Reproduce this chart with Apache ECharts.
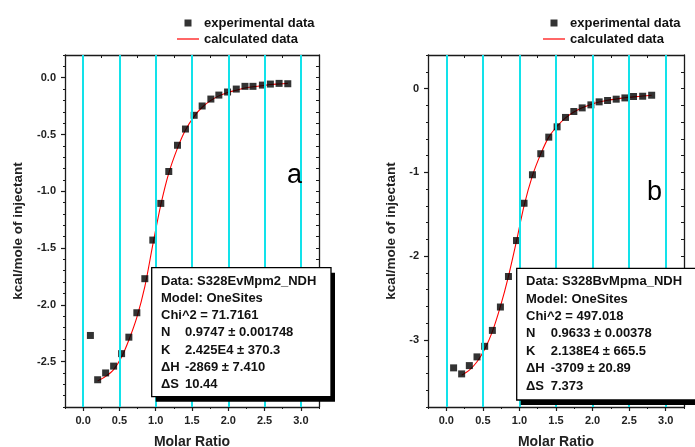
<!DOCTYPE html>
<html>
<head>
<meta charset="utf-8">
<script src="https://cdn.jsdelivr.net/npm/echarts@6/dist/echarts.min.js"></script>
<style>
html,body{margin:0;padding:0;background:#fff;}
#chart{width:695px;height:447px;}
</style>
</head>
<body>
<div id="chart"></div>
<script>
// ---- data ----
const xMajorTicks = [0, 0.5, 1.0, 1.5, 2.0, 2.5, 3.0];
const leftYMajorTicks = [-2.5, -2.0, -1.5, -1.0, -0.5, 0.0];
const rightYMajorTicks = [-3, -2, -1, 0];

const leftX = [0.10, 0.20, 0.31, 0.42, 0.53, 0.63, 0.74, 0.85, 0.96, 1.07, 1.18, 1.30, 1.41, 1.53, 1.64, 1.76, 1.87, 1.99, 2.11, 2.23, 2.34, 2.47, 2.58, 2.70, 2.82];
const leftExp = [-2.27, -2.66, -2.60, -2.54, -2.43, -2.285, -2.07, -1.77, -1.43, -1.107, -0.826, -0.595, -0.452, -0.331, -0.249, -0.188, -0.153, -0.126, -0.100, -0.076, -0.076, -0.065, -0.056, -0.050, -0.053];
const leftCalcX = [0.20, 0.31, 0.42, 0.53, 0.63, 0.74, 0.85, 0.96, 1.07, 1.18, 1.30, 1.41, 1.53, 1.64, 1.76, 1.87, 1.99, 2.11, 2.23, 2.34, 2.47, 2.58, 2.70, 2.82];
const leftCalc = [-2.67, -2.63, -2.57, -2.46, -2.31, -2.11, -1.84, -1.47, -1.12, -0.84, -0.62, -0.46, -0.34, -0.26, -0.20, -0.16, -0.13, -0.11, -0.09, -0.08, -0.07, -0.06, -0.055, -0.05];

const rightX = [0.10, 0.21, 0.315, 0.42, 0.525, 0.63, 0.74, 0.85, 0.96, 1.063, 1.178, 1.292, 1.401, 1.515, 1.63, 1.744, 1.858, 1.977, 2.09, 2.205, 2.323, 2.442, 2.56, 2.685, 2.808];
const rightExp = [-3.333, -3.405, -3.306, -3.202, -3.076, -2.886, -2.607, -2.243, -1.814, -1.369, -1.029, -0.778, -0.58, -0.457, -0.345, -0.274, -0.231, -0.195, -0.159, -0.143, -0.127, -0.112, -0.095, -0.092, -0.080];
const rightCalcX = [0.21, 0.315, 0.42, 0.525, 0.63, 0.74, 0.85, 0.96, 1.063, 1.178, 1.292, 1.401, 1.515, 1.63, 1.744, 1.858, 1.977, 2.09, 2.205, 2.323, 2.442, 2.56, 2.685, 2.808];
const rightCalc = [-3.42, -3.36, -3.26, -3.11, -2.90, -2.60, -2.24, -1.82, -1.40, -1.04, -0.78, -0.58, -0.45, -0.35, -0.28, -0.23, -0.19, -0.16, -0.14, -0.125, -0.11, -0.10, -0.09, -0.08];

const leftBoxLabels = ["Data: S328EvMpm2_NDH", "Model: OneSites", "Chi^2 = 71.7161", "N", "K", "\u0394H", "\u0394S"];
const leftBoxValues = ["", "", "", "0.9747 \u00b1 0.001748", "2.425E4 \u00b1 370.3", "-2869 \u00b1 7.410", "10.44"];
const rightBoxLabels = ["Data: S328BvMpma_NDH", "Model: OneSites", "Chi^2 = 497.018", "N", "K", "\u0394H", "\u0394S"];
const rightBoxValues = ["", "", "", "0.9633 \u00b1 0.00378", "2.138E4 \u00b1 665.5", "-3709 \u00b1 20.89", "7.373"];
const panelLetters = ["a", "b"];

// ---- chart ----
const FONT = '"Liberation Sans", Arial, sans-serif';
const AX = '#1a1a1a';
const CYAN = '#12e2ea';
const XMIN = -0.25, XMAX = 3.25;

const grids = [
  {left: 65, top: 55, width: 254, height: 352, outerBoundsMode: 'none', containLabel: false},
  {left: 428, top: 55, width: 256, height: 352, outerBoundsMode: 'none', containLabel: false}
];
const yRanges = [
  {min: -2.9, max: 0.2, minor: 0.1, majors: leftYMajorTicks, fmt: v => v.toFixed(1), nameGap: 40},
  {min: -3.8, max: 0.4, minor: 0.2, majors: rightYMajorTicks, fmt: v => String(Math.round(v)), nameGap: 30}
];

const xAxis = [], yAxis = [], series = [];
[0, 1].forEach(g => {
  const xBase = g * 3;
  xAxis.push({
    type: 'value', gridIndex: g, min: XMIN, max: XMAX, position: 'bottom',
    axisLine: {show: true, onZero: false, lineStyle: {color: AX, width: 1.3}},
    axisTick: {show: true, inside: false, length: 4, customValues: xMajorTicks, lineStyle: {color: AX, width: 1.2}},
    axisLabel: {show: true, customValues: xMajorTicks, formatter: v => v.toFixed(1), fontWeight: 'bold', fontSize: 11, color: '#222', margin: 8, fontFamily: FONT},
    splitLine: {show: false},
    name: 'Molar Ratio', nameLocation: 'middle', nameGap: 28,
    nameTextStyle: {fontWeight: 'bold', fontSize: 14, color: '#222', fontFamily: FONT}
  });
  xAxis.push({
    type: 'value', gridIndex: g, min: XMIN, max: XMAX, interval: 0.25, position: 'bottom',
    axisLine: {show: false, onZero: false}, axisTick: {show: true, inside: false, length: 2, lineStyle: {color: AX, width: 1}},
    axisLabel: {show: false}, splitLine: {show: false}
  });
  xAxis.push({
    type: 'value', gridIndex: g, min: XMIN, max: XMAX, interval: 0.25, position: 'top',
    axisLine: {show: true, onZero: false, lineStyle: {color: AX, width: 1.3}},
    axisTick: {show: true, inside: true, length: 3, lineStyle: {color: AX, width: 1}},
    axisLabel: {show: false}, splitLine: {show: false}
  });
  const yr = yRanges[g];
  yAxis.push({
    type: 'value', gridIndex: g, min: yr.min, max: yr.max, position: 'left',
    axisLine: {show: true, onZero: false, lineStyle: {color: AX, width: 1.3}},
    axisTick: {show: true, inside: false, length: 4, customValues: yr.majors, lineStyle: {color: AX, width: 1.2}},
    axisLabel: {show: true, customValues: yr.majors, formatter: yr.fmt, fontWeight: 'bold', fontSize: 11, color: '#222', margin: 9, fontFamily: FONT},
    splitLine: {show: false},
    name: 'kcal/mole of injectant', nameLocation: 'middle', nameGap: yr.nameGap,
    nameTextStyle: {fontWeight: 'bold', fontSize: 13.5, color: '#222', fontFamily: FONT}
  });
  yAxis.push({
    type: 'value', gridIndex: g, min: yr.min, max: yr.max, interval: yr.minor, position: 'left',
    axisLine: {show: false, onZero: false}, axisTick: {show: true, inside: false, length: 2, lineStyle: {color: AX, width: 1}},
    axisLabel: {show: false}, splitLine: {show: false}
  });
  yAxis.push({
    type: 'value', gridIndex: g, min: yr.min, max: yr.max, interval: yr.minor, position: 'right',
    axisLine: {show: true, onZero: false, lineStyle: {color: AX, width: 1.3}},
    axisTick: {show: true, inside: true, length: 3, lineStyle: {color: AX, width: 1}},
    axisLabel: {show: false}, splitLine: {show: false}
  });

  const xs = g === 0 ? leftX : rightX;
  const ys = g === 0 ? leftExp : rightExp;
  const cx = g === 0 ? leftCalcX : rightCalcX;
  const cy = g === 0 ? leftCalc : rightCalc;

  series.push({
    type: 'line', xAxisIndex: xBase, yAxisIndex: xBase, data: [], z: 1, silent: true, symbol: 'none',
    markLine: {
      silent: true, symbol: ['none', 'none'], label: {show: false},
      lineStyle: {color: CYAN, width: 2, type: 'solid'},
      emphasis: {disabled: true},
      data: xMajorTicks.map(v => ({xAxis: v}))
    }
  });
  series.push({
    name: 'calculated data', type: 'line', xAxisIndex: xBase, yAxisIndex: xBase,
    data: cx.map((x, i) => [x, cy[i]]), symbol: 'none', showSymbol: false, smooth: 0.3, z: 3,
    lineStyle: {color: '#ff0000', width: 1.1}, itemStyle: {color: '#ff0000'}
  });
  series.push({
    name: 'experimental data', type: 'scatter', xAxisIndex: xBase, yAxisIndex: xBase,
    data: xs.map((x, i) => [x, ys[i]]), symbol: 'rect', symbolSize: 7, z: 4,
    itemStyle: {color: '#000'}
  });
});

function boxGraphic(x0, y0, w, h, labels, values, labelX, valueX, yCenters) {
  const els = [];
  els.push({type: 'rect', shape: {x: x0 + 4, y: y0 + 5, width: w, height: h}, style: {fill: '#000'}, z: 100});
  els.push({type: 'rect', shape: {x: x0, y: y0, width: w, height: h}, style: {fill: '#fff', stroke: '#000', lineWidth: 1.3}, z: 101});
  labels.forEach((t, i) => {
    els.push({type: 'text', z: 102, style: {text: t, x: labelX, y: yCenters[i], verticalAlign: 'middle', font: 'bold 13px ' + FONT, fill: '#111'}});
    if (values[i]) {
      els.push({type: 'text', z: 102, style: {text: values[i], x: valueX, y: yCenters[i], verticalAlign: 'middle', font: 'bold 13px ' + FONT, fill: '#111'}});
    }
  });
  return els;
}

const graphic = [
  ...boxGraphic(151.7, 267.7, 179.3, 129, leftBoxLabels, leftBoxValues, 161, 185, [281.7, 298.5, 315.7, 332.9, 350.1, 367.5, 384.9]),
  ...boxGraphic(516.7, 268.3, 200, 131.7, rightBoxLabels, rightBoxValues, 526, 550.7, [281.7, 299, 316.5, 333.9, 351.2, 368.6, 386]),
  {type: 'text', z: 50, style: {text: panelLetters[0], x: 287, y: 176, verticalAlign: 'middle', font: 'normal 27px ' + FONT, fill: '#000'}},
  {type: 'text', z: 50, style: {text: panelLetters[1], x: 647, y: 193, verticalAlign: 'middle', font: 'normal 27px ' + FONT, fill: '#000'}}
];

const SQUARE_ICON = 'path://M0,0 M22,8 M7.5,0.5 L14.5,0.5 L14.5,7.5 L7.5,7.5 Z';
const LINE_ICON = 'path://M0,0 M22,8 M0,3.4 L22,3.4 L22,4.6 L0,4.6 Z';
const legendBase = {
  orient: 'vertical', top: 16.5, itemWidth: 22, itemHeight: 8, itemGap: 3, padding: 0,
  data: [{name: 'experimental data', icon: SQUARE_ICON}, {name: 'calculated data', icon: LINE_ICON}],
  textStyle: {fontWeight: 'bold', fontSize: 13, color: '#111', fontFamily: FONT},
  selectedMode: false
};

const chart = echarts.init(document.getElementById('chart'), null, {renderer: 'canvas'});
chart.setOption({
  animation: false,
  backgroundColor: '#fff',
  textStyle: {fontFamily: FONT},
  grid: grids,
  xAxis: xAxis,
  yAxis: yAxis,
  legend: [Object.assign({left: 177}, legendBase), Object.assign({left: 543}, legendBase)],
  series: series,
  graphic: graphic
});
</script>
</body>
</html>
